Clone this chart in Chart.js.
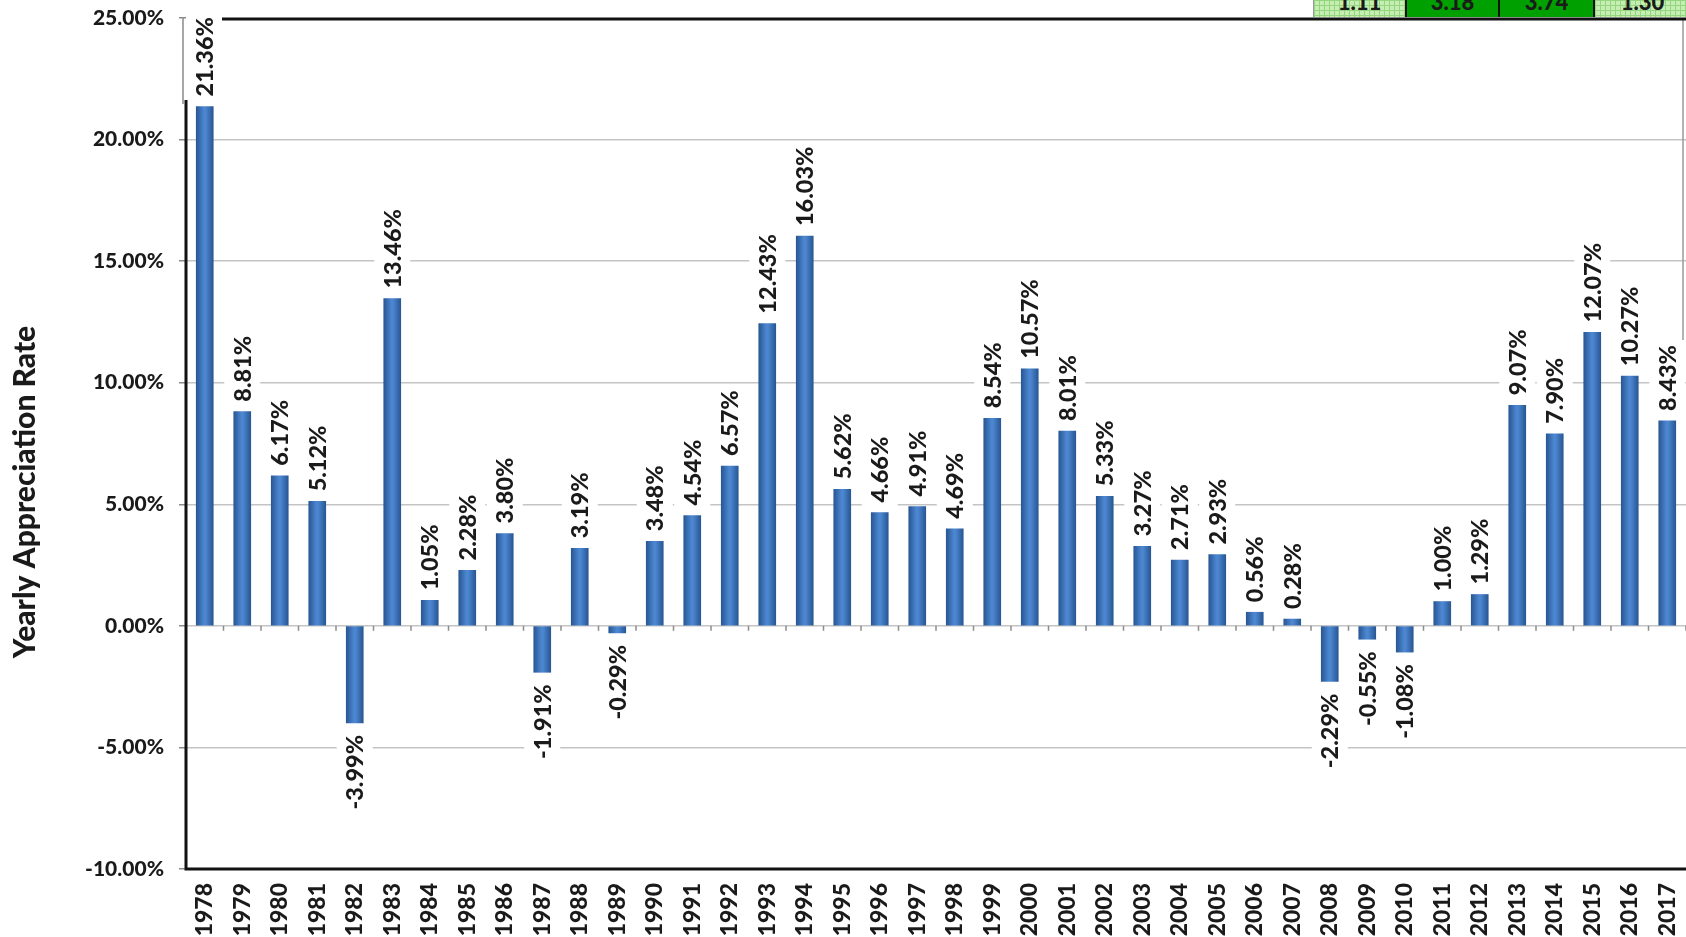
<!DOCTYPE html>
<html>
<head>
<meta charset="utf-8">
<script src="https://cdn.jsdelivr.net/npm/chart.js@4.4.0/dist/chart.umd.min.js"></script>
<style>
  body { margin: 0; background: #fff; }
  #wrap { position: relative; width: 1686px; height: 937px; }
  .cell { position: absolute; top: 0; height: 17px; overflow: hidden; box-sizing: border-box;
          font: 900 22px Lato, sans-serif; color: #1a1a1a; text-align: center; }
  .cell span { position: relative; top: -12px; }
  .light { background-color: #c6eeb2;
           background-image: linear-gradient(#94d67f 1px, transparent 1px), linear-gradient(90deg, #94d67f 1px, transparent 1px);
           background-size: 5px 5px; }
  .solid { background: #00a000; }
</style>
</head>
<body>
<div id="wrap">
  <canvas id="barChart" width="1686" height="937"></canvas>
</div>
<script>
console.log("chart script running...")

// data
const years = ['1978','1979','1980','1981','1982','1983','1984','1985','1986','1987',
               '1988','1989','1990','1991','1992','1993','1994','1995','1996','1997',
               '1998','1999','2000','2001','2002','2003','2004','2005','2006','2007',
               '2008','2009','2010','2011','2012','2013','2014','2015','2016','2017'];
// bar heights as drawn (1998 bar is drawn lower than its label)
const appreciation = [21.36, 8.81, 6.17, 5.12, -3.99, 13.46, 1.05, 2.28, 3.80, -1.91,
                      3.19, -0.29, 3.48, 4.54, 6.57, 12.43, 16.03, 5.62, 4.66, 4.91,
                      3.99, 8.54, 10.57, 8.01, 5.33, 3.27, 2.71, 2.93, 0.56, 0.28,
                      -2.29, -0.55, -1.08, 1.00, 1.29, 9.07, 7.90, 12.07, 10.27, 8.43];
const valueLabels = ['21.36%','8.81%','6.17%','5.12%','-3.99%','13.46%','1.05%','2.28%','3.80%','-1.91%',
                     '3.19%','-0.29%','3.48%','4.54%','6.57%','12.43%','16.03%','5.62%','4.66%','4.91%',
                     '4.69%','8.54%','10.57%','8.01%','5.33%','3.27%','2.71%','2.93%','0.56%','0.28%',
                     '-2.29%','-0.55%','-1.08%','1.00%','1.29%','9.07%','7.90%','12.07%','10.27%','8.43%'];
const yMin = -10;
const yMax = 25;
const yStep = 5;
const axisTitle = 'Yearly Appreciation Rate';

// cut-off table row above the chart
const tableValues = ['1.11', '3.18', '3.74', '1.30'];
const tableStyles = ['light', 'solid', 'solid', 'light'];
const tableLefts = [1313, 1405, 1498, 1593];

const wrap = document.getElementById('wrap');
tableValues.forEach((txt, i) => {
    const d = document.createElement('div');
    d.className = 'cell ' + tableStyles[i];
    d.style.left = tableLefts[i] + 'px';
    d.style.width = ((tableLefts[i + 1] || 1690) - tableLefts[i]) + 'px';
    d.style.borderLeft = i === 0 ? '1px solid #9a9a9a' : '2px solid #111';
    d.innerHTML = '<span>' + txt + '</span>';
    wrap.appendChild(d);
});

const labelFont = '900 23.5px Lato, sans-serif';

function barGradient(context) {
    const chart = context.chart;
    if (!chart.chartArea || !chart.scales.x) return '#3d74ba';
    const x = chart.scales.x.getPixelForValue(context.dataIndex);
    const g = chart.ctx.createLinearGradient(x - 8.5, 0, x + 8.5, 0);
    g.addColorStop(0, '#285794');
    g.addColorStop(0.45, '#4c86d0');
    g.addColorStop(0.55, '#4c86d0');
    g.addColorStop(1, '#285794');
    return g;
}

const decorations = {
    id: 'decorations',
    beforeDatasetsDraw(chart) {
        // small ticks along the zero line at category boundaries
        const ctx = chart.ctx;
        const xs = chart.scales.x;
        const y0 = chart.scales.y.getPixelForValue(0);
        const step = xs.getPixelForValue(1) - xs.getPixelForValue(0);
        ctx.save();
        ctx.strokeStyle = '#8c8c8c';
        ctx.lineWidth = 1.5;
        ctx.beginPath();
        for (let i = 0; i <= years.length; i++) {
            const x = xs.getPixelForValue(0) - step / 2 + i * step;
            ctx.moveTo(x, y0);
            ctx.lineTo(x, y0 + 5);
        }
        ctx.stroke();
        // thin right border of the plot, upper part
        ctx.strokeStyle = '#9a9a9a';
        ctx.beginPath();
        ctx.moveTo(chart.chartArea.right - 3, chart.chartArea.top);
        ctx.lineTo(chart.chartArea.right - 3, 345);
        ctx.stroke();
        ctx.restore();
    },
    afterDatasetsDraw(chart) {
        // value labels
        const ctx = chart.ctx;
        const meta = chart.getDatasetMeta(0);
        ctx.save();
        ctx.font = labelFont;
        meta.data.forEach((bar, i) => {
            const v = appreciation[i];
            const text = valueLabels[i];
            const w = ctx.measureText(text).width;
            ctx.save();
            ctx.translate(bar.x, v >= 0 ? bar.y - 10 : bar.y + 12);
            ctx.rotate(-Math.PI / 2);
            const x0 = v >= 0 ? 0 : -w;
            ctx.fillStyle = '#ffffff';
            ctx.fillRect(x0 - 5, -18, w + 10, 36);
            ctx.fillStyle = '#1a1a1a';
            ctx.textBaseline = 'middle';
            ctx.textAlign = 'left';
            ctx.fillText(text, x0, 1);
            ctx.restore();
        });
        ctx.restore();
    },
    afterDraw(chart) {
        const ctx = chart.ctx;
        const a = chart.chartArea;
        ctx.save();
        // thin grey upper part of the y axis
        ctx.strokeStyle = '#8a8a8a';
        ctx.lineWidth = 1.5;
        ctx.beginPath();
        ctx.moveTo(a.left - 3, a.top);
        ctx.lineTo(a.left - 3, 104);
        ctx.stroke();
        // thick black axes
        ctx.strokeStyle = '#111';
        ctx.lineWidth = 3;
        ctx.beginPath();
        ctx.moveTo(a.left, 100);
        ctx.lineTo(a.left, a.bottom);
        ctx.lineTo(a.right, a.bottom);
        ctx.stroke();
        // top border line of the table
        ctx.beginPath();
        ctx.moveTo(222, 19);
        ctx.lineTo(a.right, 19);
        ctx.stroke();
        // axis title
        ctx.font = '900 30px Lato, sans-serif';
        ctx.fillStyle = '#1a1a1a';
        ctx.translate(25, 492);
        ctx.rotate(-Math.PI / 2);
        ctx.textAlign = 'center';
        ctx.textBaseline = 'middle';
        ctx.fillText(axisTitle, 0, 0);
        ctx.restore();
    }
};

const data = {
    labels: years,
    datasets: [{
        label: 'appreciation',
        data: appreciation,
        backgroundColor: barGradient,
        borderWidth: 0,
        barThickness: 17
    }]
};

const config = {
    type: 'bar',
    data: data,
    options: {
        responsive: false,
        animation: false,
        layout: { padding: { top: 18, right: 0, left: 0, bottom: 0 } },
        plugins: {
            legend: { display: false },
            tooltip: { enabled: false }
        },
        scales: {
            x: {
                grid: { display: false },
                border: { display: false },
                ticks: {
                    minRotation: 90,
                    maxRotation: 90,
                    padding: 6,
                    color: '#1a1a1a',
                    font: { family: 'Lato', weight: 900, size: 23 }
                },
                afterFit(scale) {
                    scale.height = 68;
                    scale.paddingLeft = 0;
                    scale.paddingRight = 0;
                }
            },
            y: {
                min: yMin,
                max: yMax,
                border: { display: false },
                grid: {
                    color: (c) => (c.tick && (c.tick.value === yMax || c.tick.value === yMin)) ? 'rgba(0,0,0,0)' : '#c4c4c4',
                    lineWidth: 1.5,
                    tickLength: 7,
                    tickColor: '#8a8a8a'
                },
                ticks: {
                    stepSize: yStep,
                    padding: 15,
                    color: '#1a1a1a',
                    font: { family: 'Lato', weight: 900, size: 21 },
                    callback: (v) => v.toFixed(2) + '%'
                },
                afterFit(scale) {
                    scale.width = 186;
                    scale.paddingTop = 0;
                    scale.paddingBottom = 0;
                }
            }
        }
    },
    plugins: [decorations]
};

const ctx = document.getElementById('barChart').getContext('2d');
const barChart = new Chart(ctx, config);
</script>
</body>
</html>
